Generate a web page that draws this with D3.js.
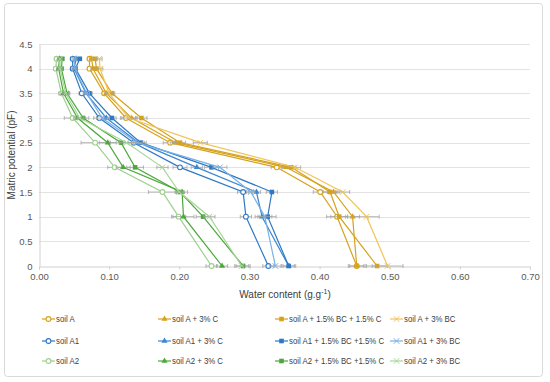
<!DOCTYPE html>
<html>
<head>
<meta charset="utf-8">
<script src="https://cdn.jsdelivr.net/npm/d3@7"></script>
<style>
body{margin:0;background:#fff;}
text{font-family:"Liberation Sans",Arial,sans-serif;}
</style>
</head>
<body>
<svg id="chart" width="550" height="382"></svg>
<script>
// matric potential levels (pF) shared by every series
var levels = [0, 1, 1.5, 2, 2.5, 3, 3.5, 4, 4.2];
var xTicks = [0, 0.1, 0.2, 0.3, 0.4, 0.5, 0.6, 0.7];
var yTicks = [0, 0.5, 1, 1.5, 2, 2.5, 3, 3.5, 4, 4.5];

// water content (g/g) per level
var soilA      = [0.453, 0.425, 0.401, 0.339, 0.187, 0.124, 0.093, 0.072, 0.072];
var soilA_3C   = [0.453, 0.447, 0.420, 0.352, 0.195, 0.132, 0.096, 0.077, 0.075];
var soilA_BCC  = [0.482, 0.428, 0.415, 0.360, 0.201, 0.146, 0.104, 0.082, 0.080];
var soilA_3BC  = [0.497, 0.467, 0.433, 0.365, 0.230, 0.128, 0.100, 0.087, 0.086];
var soilA1     = [0.327, 0.295, 0.291, 0.201, 0.135, 0.086, 0.061, 0.048, 0.048];
var soilA1_3C  = [0.356, 0.318, 0.310, 0.225, 0.142, 0.096, 0.067, 0.050, 0.053];
var soilA1_BCC = [0.356, 0.326, 0.332, 0.246, 0.145, 0.104, 0.072, 0.052, 0.058];
var soilA1_3BC = [0.337, 0.322, 0.302, 0.258, 0.140, 0.090, 0.068, 0.051, 0.050];
var soilA2     = [0.246, 0.199, 0.176, 0.108, 0.080, 0.048, 0.032, 0.024, 0.025];
var soilA2_3C  = [0.261, 0.206, 0.204, 0.120, 0.098, 0.055, 0.035, 0.028, 0.029];
var soilA2_BCC = [0.291, 0.234, 0.201, 0.137, 0.117, 0.063, 0.040, 0.032, 0.033];
var soilA2_3BC = [0.289, 0.243, 0.200, 0.176, 0.125, 0.058, 0.038, 0.030, 0.030];

// standard deviations (error bars)
var errA      = [0.012, 0.015, 0.010, 0.008, 0.010, 0.006, 0.003, 0.003, 0.003];
var errA_3C   = [0.010, 0.010, 0.008, 0.006, 0.008, 0.006, 0.003, 0.003, 0.003];
var errA_BCC  = [0.015, 0.012, 0.010, 0.006, 0.008, 0.008, 0.004, 0.003, 0.003];
var errA_3BC  = [0.022, 0.018, 0.010, 0.008, 0.010, 0.012, 0.004, 0.004, 0.004];
var errA1     = [0.008, 0.008, 0.008, 0.010, 0.008, 0.008, 0.004, 0.003, 0.003];
var errA1_3C  = [0.008, 0.010, 0.006, 0.008, 0.008, 0.006, 0.004, 0.003, 0.003];
var errA1_BCC = [0.010, 0.012, 0.008, 0.010, 0.008, 0.006, 0.004, 0.003, 0.003];
var errA1_3BC = [0.008, 0.010, 0.006, 0.010, 0.008, 0.008, 0.004, 0.003, 0.003];
var errA2     = [0.008, 0.010, 0.020, 0.010, 0.020, 0.012, 0.004, 0.003, 0.003];
var errA2_3C  = [0.008, 0.015, 0.008, 0.010, 0.012, 0.006, 0.004, 0.003, 0.003];
var errA2_BCC = [0.010, 0.010, 0.006, 0.012, 0.015, 0.008, 0.004, 0.003, 0.003];
var errA2_3BC = [0.010, 0.008, 0.006, 0.008, 0.010, 0.006, 0.004, 0.003, 0.003];

var names = [
	'soil A', 'soil A + 3% C', 'soil A + 1.5% BC + 1.5% C', 'soil A + 3% BC',
	'soil A1', 'soil A1 + 3% C', 'soil A1 + 1.5% BC +1.5% C', 'soil A1 + 3% BC',
	'soil A2', 'soil A2 + 3% C', 'soil A2 + 1.5% BC +1.5% C', 'soil A2 + 3% BC'
];
var values = [soilA, soilA_3C, soilA_BCC, soilA_3BC, soilA1, soilA1_3C, soilA1_BCC, soilA1_3BC,
	soilA2, soilA2_3C, soilA2_BCC, soilA2_3BC];
var errors = [errA, errA_3C, errA_BCC, errA_3BC, errA1, errA1_3C, errA1_BCC, errA1_3BC,
	errA2, errA2_3C, errA2_BCC, errA2_3BC];
var colors = ['#D6A21E', '#D6A21E', '#D6A21E', '#EFC55A',
	'#2F78C4', '#3D86D0', '#2F78C4', '#78B0E6',
	'#9ED08E', '#4DA83C', '#4DA83C', '#A6D898'];
var markers = ['circle', 'triangle', 'square', 'x'];

var svg = d3.select('#chart');
var x = d3.scaleLinear().domain([0, 0.7]).range([39, 530]);
var y = d3.scaleLinear().domain([0, 4.5]).range([266, 44]);

//outer frame
svg.append('rect').attr('x', 4.5).attr('y', 3.5).attr('width', 538).attr('height', 373)
	.attr('rx', 3).attr('fill', '#fff').attr('stroke', '#D9D9D9');

//grid
svg.append('g').selectAll('line').data(yTicks.slice(1)).join('line')
	.attr('x1', x(0)).attr('x2', x(0.7))
	.attr('y1', function(d){ return Math.round(y(d)) + 0.5; })
	.attr('y2', function(d){ return Math.round(y(d)) + 0.5; })
	.attr('stroke', '#E3E3E3');

//axes
var gx = svg.append('g').attr('transform', 'translate(0,' + (Math.round(y(0)) + 0.5) + ')')
	.call(d3.axisBottom(x).tickValues(xTicks).tickFormat(d3.format('.2f')).tickSize(3).tickPadding(4));
var gy = svg.append('g').attr('transform', 'translate(' + (Math.round(x(0)) + 0.5) + ',0)')
	.call(d3.axisLeft(y).tickValues(yTicks).tickFormat(d3.format('')).tickSize(0).tickPadding(7));
[gx, gy].forEach(function(g){
	g.select('.domain').attr('stroke', '#D0D0D0');
	g.selectAll('.tick line').attr('stroke', '#D0D0D0');
	g.selectAll('.tick text').attr('fill', '#595959').style('font-size', '9.5px')
		.style('font-family', '"Liberation Sans",Arial,sans-serif');
});

//axis titles
var xt = svg.append('text').attr('x', 285).attr('y', 298).attr('text-anchor', 'middle')
	.attr('fill', '#404040').style('font-size', '10px').text('Water content (g.g');
xt.append('tspan').attr('dy', -4).style('font-size', '7px').text('-1');
xt.append('tspan').attr('dy', 4).text(')');
svg.append('text').attr('transform', 'translate(15,155) rotate(-90)').attr('text-anchor', 'middle')
	.attr('fill', '#404040').style('font-size', '10px').text('Matric potential (pF)');

function drawMarker(g, type, color, cx, cy){
	if(type == 'circle'){
		g.append('circle').attr('cx', cx).attr('cy', cy).attr('r', 2.4)
			.attr('fill', '#fff').attr('stroke', color).attr('stroke-width', 1.1);
	}else if(type == 'triangle'){
		g.append('path').attr('d', d3.symbol(d3.symbolTriangle, 16)())
			.attr('transform', 'translate(' + cx + ',' + cy + ')').attr('fill', color);
	}else if(type == 'square'){
		g.append('rect').attr('x', cx - 2.3).attr('y', cy - 2.3).attr('width', 4.6).attr('height', 4.6)
			.attr('fill', color);
	}else{
		g.append('path').attr('d', d3.symbol(d3.symbolX, 22)())
			.attr('transform', 'translate(' + cx + ',' + cy + ')')
			.attr('fill', 'none').attr('stroke', color).attr('stroke-width', 1);
	}
}

var line = d3.line().x(function(d){ return x(d[0]); }).y(function(d){ return y(d[1]); });
var plot = svg.append('g');

values.forEach(function(vals, i){
	var pts = vals.map(function(v, k){ return [v, levels[k], errors[i][k]]; });
	var g = plot.append('g');
	g.append('path').attr('d', line(pts)).attr('fill', 'none')
		.attr('stroke', colors[i]).attr('stroke-width', 1.2);
	//error bars
	pts.forEach(function(p){
		var yy = y(p[1]), x0 = x(p[0] - p[2]), x1 = x(p[0] + p[2]);
		g.append('line').attr('x1', x0).attr('x2', x1).attr('y1', yy).attr('y2', yy)
			.attr('stroke', '#A6A6A6').attr('stroke-width', 0.8);
		[x0, x1].forEach(function(xx){
			g.append('line').attr('x1', xx).attr('x2', xx).attr('y1', yy - 2).attr('y2', yy + 2)
				.attr('stroke', '#A6A6A6').attr('stroke-width', 0.8);
		});
	});
	pts.forEach(function(p){
		drawMarker(g, markers[i % 4], colors[i], x(p[0]), y(p[1]));
	});
});

//legend
var legX = [42, 158, 275, 390];
var legY = [319, 341, 361];
var leg = svg.append('g');
names.forEach(function(n, i){
	var lx = legX[i % 4], ly = legY[Math.floor(i / 4)];
	leg.append('line').attr('x1', lx).attr('x2', lx + 13).attr('y1', ly).attr('y2', ly)
		.attr('stroke', colors[i]).attr('stroke-width', 1.2);
	drawMarker(leg, markers[i % 4], colors[i], lx + 6.5, ly);
	var t = leg.append('text').attr('x', lx + 14).attr('y', ly + 3.3).attr('fill', '#404040')
		.style('font-size', '9.3px').text(n);
	//narrow like the original's condensed font
	var w = t.node().getComputedTextLength();
	t.attr('textLength', w * 0.84).attr('lengthAdjust', 'spacingAndGlyphs');
});
</script>
</body>
</html>
